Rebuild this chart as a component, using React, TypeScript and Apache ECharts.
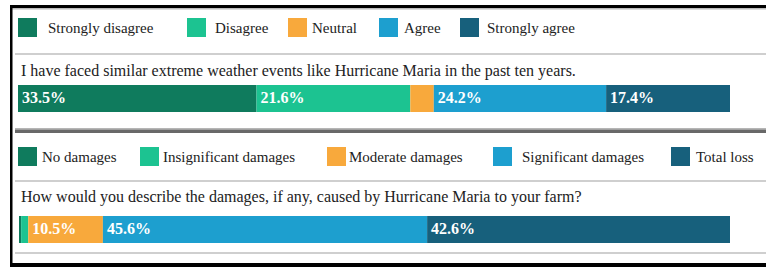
import React, { useEffect, useRef } from "react";
import * as echarts from "echarts";

const names1 = ["Strongly disagree", "Disagree", "Neutral", "Agree", "Strongly agree"];
const values1 = [33.5, 21.6, 3.3, 24.2, 17.4];
const names2 = ["No damages", "Insignificant damages", "Moderate damages", "Significant damages", "Total loss"];
const values2 = [0.3, 1.0, 10.5, 45.6, 42.6];
const colors = ["#0f7b5d", "#1cc391", "#f8a93c", "#1d9fcf", "#17607c"];
const question1 = "I have faced similar extreme weather events like Hurricane Maria in the past ten years.";
const question2 = "How would you describe the damages, if any, caused by Hurricane Maria to your farm?";
const categories = ["Q"];

const FONT = "Liberation Serif";

// legend layout: square x positions and extra text gap
const leg1X = [18, 187, 288, 379, 460];
const leg1Gap = [6, 4, 0, 1, 3];
const leg2X = [18, 140, 327, 493, 671];
const leg2Gap = [0, -1, -2, 5, 1];

export default function App() {
  const ref = useRef<HTMLDivElement>(null);
  useEffect(() => {
    if (!ref.current) return;
    const chart = echarts.init(ref.current, null, { renderer: "svg" });

    const mkLegend = (name: string, x: number, y: number, gap: number) => ({
      data: [name],
      left: x,
      top: y,
      padding: 0,
      itemWidth: 19,
      itemHeight: 19,
      icon: "rect",
      selectedMode: false,
      textStyle: {
        fontFamily: FONT,
        fontSize: 15,
        color: "#222",
        padding: [0, 0, 0, gap],
      },
    });

    const mkSeries = (names: string[], values: number[], idx: number) =>
      names.map((n, i) => ({
        name: n,
        type: "bar",
        stack: "s" + idx,
        xAxisIndex: idx,
        yAxisIndex: idx,
        barWidth: 27,
        itemStyle: { color: colors[i] },
        label: {
          show: values[i] >= 5,
          position: "insideLeft",
          distance: 4,
          offset: [0, -1],
          formatter: (p: any) => p.value.toFixed(1) + "%",
          color: "#fff",
          fontFamily: FONT,
          fontWeight: "bold",
          fontSize: 16,
        },
        data: [values[i]],
      }));

    const option: any = {
      animation: false,
      textStyle: { fontFamily: FONT },
      legend: [
        ...names1.map((n, i) => mkLegend(n, leg1X[i], 18, leg1Gap[i])),
        ...names2.map((n, i) => mkLegend(n, leg2X[i], 147, leg2Gap[i])),
      ],
      grid: [
        { left: 18, top: 85, width: 712, height: 27 },
        { left: 19, top: 216, width: 711, height: 27 },
      ],
      xAxis: [
        { type: "value", gridIndex: 0, min: 0, max: 100, show: false },
        { type: "value", gridIndex: 1, min: 0, max: 100, show: false },
      ],
      yAxis: [
        { type: "category", gridIndex: 0, data: categories, show: false },
        { type: "category", gridIndex: 1, data: categories, show: false },
      ],
      series: [...mkSeries(names1, values1, 0), ...mkSeries(names2, values2, 1)],
      graphic: [
        // frame
        { type: "rect", shape: { x: 10, y: 5, width: 760, height: 3 }, style: { fill: "#000" } },
        { type: "rect", shape: { x: 10, y: 8, width: 760, height: 1.5 }, style: { fill: "#bbb" } },
        { type: "rect", shape: { x: 10, y: 5, width: 2.5, height: 262 }, style: { fill: "#000" } },
        { type: "rect", shape: { x: 10, y: 263, width: 760, height: 4 }, style: { fill: "#000" } },
        // light separators
        { type: "rect", shape: { x: 15, y: 53, width: 760, height: 2 }, style: { fill: "#cfcfcf" } },
        { type: "rect", shape: { x: 15, y: 180, width: 760, height: 2 }, style: { fill: "#cfcfcf" } },
        { type: "rect", shape: { x: 15, y: 252, width: 760, height: 2 }, style: { fill: "#cfcfcf" } },
        // middle separator
        { type: "rect", shape: { x: 15, y: 128, width: 760, height: 1.5 }, style: { fill: "#b5b5b5" } },
        { type: "rect", shape: { x: 15, y: 129.5, width: 760, height: 3.5 }, style: { fill: "#686868" } },
        // questions
        {
          type: "text",
          x: 21,
          y: 70,
          style: { text: question1, fontFamily: FONT, fontSize: 16, fill: "#222", verticalAlign: "middle" },
        },
        {
          type: "text",
          x: 21,
          y: 196,
          style: { text: question2, fontFamily: FONT, fontSize: 16, fill: "#222", verticalAlign: "middle" },
        },
      ],
    };
    chart.setOption(option);
    return () => chart.dispose();
  }, []);

  return (
    <div
      ref={ref}
      style={{ position: "fixed", left: 0, top: 0, width: 766, height: 267, background: "#fff" }}
    />
  );
}
